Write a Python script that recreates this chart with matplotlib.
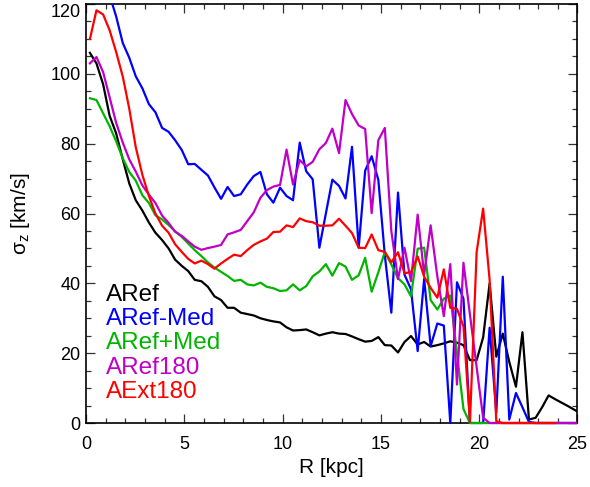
import matplotlib
matplotlib.use("Agg")
import matplotlib.pyplot as plt
from matplotlib.patches import Rectangle
from matplotlib.ticker import MultipleLocator

plt.rcParams['font.family'] = ['Liberation Sans', 'DejaVu Sans']
plt.rcParams['mathtext.fontset'] = 'custom'
plt.rcParams['mathtext.rm'] = 'Liberation Sans'

# radial bins [kpc]
radius = [0.20, 0.53, 0.87, 1.20, 1.53, 1.87, 2.20, 2.53, 2.87, 3.20,
          3.53, 3.87, 4.20, 4.53, 4.87, 5.20, 5.53, 5.87, 6.20, 6.53,
          6.87, 7.20, 7.53, 7.87, 8.20, 8.53, 8.87, 9.20, 9.53, 9.87,
          10.20, 10.53, 10.87, 11.20, 11.53, 11.87, 12.20, 12.53, 12.87, 13.20,
          13.53, 13.87, 14.20, 14.53, 14.87, 15.20, 15.53, 15.87, 16.20, 16.53,
          16.87, 17.20, 17.53, 17.87, 18.20, 18.53, 18.87, 19.20, 19.53, 19.87,
          20.20, 20.53, 20.87, 21.20, 21.53, 21.87, 22.20, 22.53, 22.87, 23.20,
          23.53, 23.87, 24.20, 24.53, 24.87, 25.20]

# sigma_z [km/s] for each run
aref = [106, 103, 97, 88, 83, 75.5, 68.6, 63.8, 60.8, 57.4,
        54.5, 52.4, 50, 46.8, 45, 43.5, 41, 40.6, 39, 36.3,
        35.2, 33, 33, 31.6, 31.2, 30.8, 30, 29.5, 29.1, 28.8,
        27.4, 26.5, 26.6, 26.8, 26, 25.1, 25.6, 26, 25.6, 25.5,
        24.8, 24, 23.3, 23.5, 24.6, 22.3, 22.2, 20.2, 23.2, 24.9,
        22.5, 23.2, 21.9, 22.3, 22.8, 23.4, 23, 22.3, 18, 18,
        24.5, 40, 19, 25.6, 17.5, 10.4, 26, 1, 1.5, 4.5,
        7.9, 6.8, 5.8, 4.8, 3.7, 2.6]

aref_med = [131, 128, 125, 122.5, 116.5, 108.8, 104.6, 99.3, 95.8, 91.3,
            89, 84.5, 83.4, 81, 78.2, 74.1, 74.2, 72.5, 70.9, 67.5,
            64.2, 67.6, 65, 65.5, 68.3, 70.7, 71.9, 65.5, 63.1, 67.4,
            65, 63.8, 80.3, 72.1, 69.8, 50.2, 60, 69.7, 67.9, 64.3,
            79.1, 50.2, 72.3, 76.4, 69.6, 48, 31.6, 66, 42.5, 38.3,
            20.6, 41.3, 22, 28.5, 27.9, 0, 40.3, 35.6, 0, 0,
            0, 27.3, 2.9, 41.9, 1, 8.6, 4.5, 0.3, 0, 0,
            0, 0, 0, 0, 0, 0]

aref_pmed = [93, 92.5, 88.7, 85, 80.7, 75.8, 71.9, 69.4, 65.2, 63,
             59.5, 58.3, 56.7, 54.9, 53.3, 51.4, 49.5, 47.8, 46, 44.5,
             43.3, 42.1, 40.7, 41, 39.7, 39.4, 40.2, 39, 38.6, 37.8,
             38, 39.7, 38, 39.2, 42, 43.4, 45.5, 42.2, 45.8, 44.8,
             41, 42.3, 47.3, 37.6, 43.2, 49, 45.4, 41.5, 39.7, 36.3,
             49.9, 50.2, 35.2, 32.5, 35.6, 36.5, 20, 4, 0, 0,
             0, 0, 0, 0, 0, 0, 0, 0, 0, 0,
             0, 0, 0, 0, 0, 0]

aref180 = [103, 104.8, 100.5, 93.3, 86, 80.3, 75.5, 72, 68, 65.4,
           63, 59.4, 57.3, 54.8, 53.6, 52, 50.5, 49.6, 50.1, 50.5,
           51, 54, 54.6, 55.3, 57.8, 60.3, 64.5, 66.7, 67.7, 68.2,
           78.3, 68.3, 75.3, 73.5, 74.8, 78.4, 80.2, 84.3, 77.3, 92.5,
           88.5, 85.2, 84.2, 60.1, 81, 84.5, 55, 41.2, 50.2, 40.6,
           59.7, 42.5, 56.6, 42, 30.6, 45.5, 11, 45.9, 31, 16,
           1.5, 0, 0, 0, 0, 0, 0, 0, 0, 0,
           0, 0, 0, 0, 0, 0]

aext180 = [110, 118.2, 117, 112.5, 106.3, 99.2, 90, 79, 71, 65,
           60, 56.5, 54.5, 51.2, 49, 47, 45.7, 46.5, 45.5, 44.2,
           45.7, 47, 48.2, 47.8, 49.5, 51, 52, 52.8, 54.7, 54.8,
           56.6, 56.1, 58.6, 57.8, 57.5, 56.5, 56.5, 56.6, 58.5, 56.5,
           54.4, 50.2, 50.1, 54, 49.5, 49, 46, 48.9, 42.9, 43.2,
           47.7, 41.9, 38.7, 35.9, 44, 33, 32.7, 27.7, 0.3, 49,
           61.4, 41, 0.5, 0, 0, 0, 0, 0, 0, 0,
           0, 0]

labels = ['ARef', 'ARef-Med', 'ARef+Med', 'ARef180', 'AExt180']
colors = ['black', '#0000ff', '#00b400', '#c000c8', '#ff0000']
series = [aref, aref_med, aref_pmed, aref180, aext180]

fig = plt.figure(figsize=(5.9, 4.87), dpi=100)
ax = fig.add_axes([0.1458, 0.1314, 0.833, 0.8604])

# clip region reaches a little below zero so lines on the axis stay whole
clip = Rectangle((0, -0.012), 1, 1.012, transform=ax.transAxes,
                 facecolor='none', edgecolor='none')

for vals, col in zip(series, colors):
    line, = ax.plot(radius[:len(vals)], vals, color=col, lw=1.6, zorder=3)
    line.set_clip_path(clip)

ax.set_xlim(0, 25)
ax.set_ylim(0, 120)
ax.set_xticks([0, 5, 10, 15, 20, 25])
ax.set_yticks([0, 20, 40, 60, 80, 100, 120])
ax.xaxis.set_minor_locator(MultipleLocator(1))
ax.yaxis.set_minor_locator(MultipleLocator(5))
ax.tick_params(which='both', direction='in', top=True, right=True,
               width=0.9, color='#333333', labelsize=13)
ax.tick_params(which='major', length=6.5)
ax.tick_params(which='minor', length=3.5)
ax.tick_params(axis='x', pad=9)
ax.tick_params(axis='y', pad=4)
for sp in ax.spines.values():
    sp.set_linewidth(1.2)

# keep the top label inside the figure
ax.yaxis.get_major_ticks()[-1].label1.set_verticalalignment('top')

ax.set_xlabel('R [kpc]', fontsize=15, labelpad=4)
ax.set_ylabel(r'$\mathregular{\sigma_z}$ [km/s]', fontsize=15, labelpad=13)

# legend as coloured text
baselines = [300.7, 324.9, 349.1, 373.5, 397.9]
for lab, col, yb in zip(labels, colors, baselines):
    ax.text(0.0407, (423 - yb) / 419.0, lab, color=col, fontsize=17.5,
            transform=ax.transAxes, va='baseline', ha='left')

fig.savefig('out.png', dpi=100)
